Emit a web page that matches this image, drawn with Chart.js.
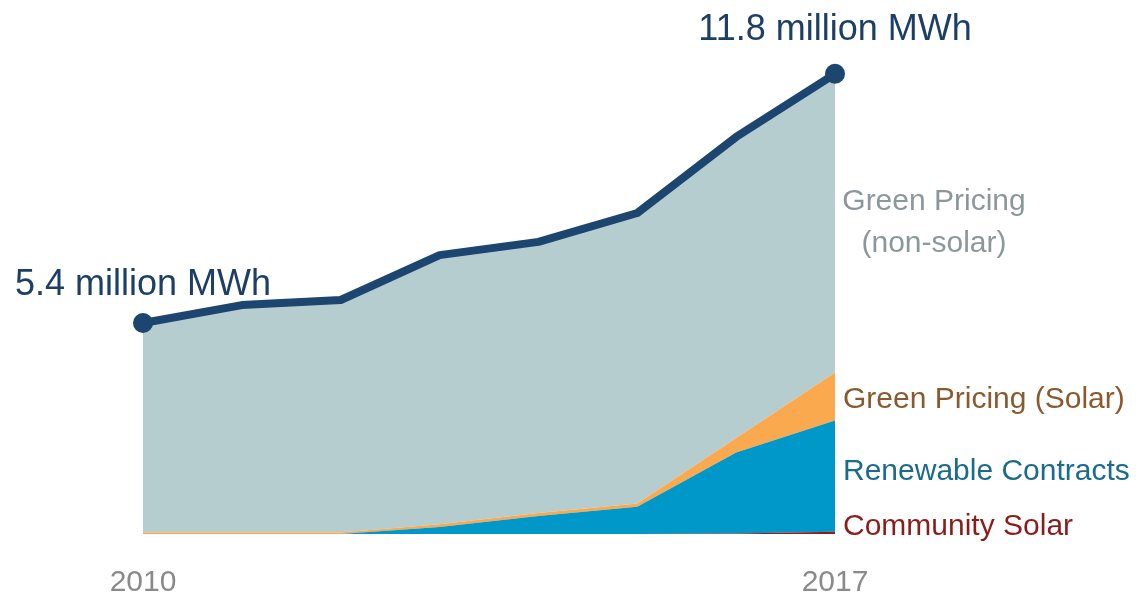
<!DOCTYPE html>
<html>
<head>
<meta charset="utf-8">
<script src="https://cdn.jsdelivr.net/npm/chart.js@4/dist/chart.umd.min.js"></script>
<style>
  html, body { margin: 0; padding: 0; background: #fff; }
  #wrap { width: 1138px; height: 595px; }
</style>
</head>
<body>
<div id="wrap"><canvas id="grafico" width="1138" height="595"></canvas></div>
<script>
// datos (millones de MWh)
const years = ['2010', '2011', '2012', '2013', '2014', '2015', '2016', '2017'];
const communitySolar = [0, 0, 0, 0, 0, 0, 0.01, 0.06];
const renewableContracts = [0, 0, 0, 0.18, 0.46, 0.70, 2.08, 2.85];
const greenPricingSolar = [0.04, 0.04, 0.04, 0.07, 0.08, 0.08, 0.37, 1.23];
const greenPricingNonSolar = [5.37, 5.83, 5.96, 6.90, 6.95, 7.45, 7.72, 7.66];
const totals = [5.41, 5.87, 6.00, 7.15, 7.49, 8.23, 10.18, 11.80];
const endLabels = ['5.4 million MWh', '11.8 million MWh'];
const yearTicks = ['2010', '2017'];

const FONT = '"Liberation Sans", Arial, sans-serif';

const etiquetas = {
    id: 'etiquetas',
    afterDatasetsDraw(chart) {
        const ctx = chart.ctx;
        const x = chart.scales.x;
        const y = chart.scales.y;
        const last = years.length - 1;
        const xr = chart.chartArea.right + 8;
        ctx.save();

        ctx.font = '36px ' + FONT;
        ctx.fillStyle = '#1d3f66';
        ctx.textAlign = 'center';
        ctx.textBaseline = 'alphabetic';
        ctx.fillText(endLabels[0], x.getPixelForValue(0), y.getPixelForValue(totals[0]) - 28);
        ctx.fillText(endLabels[1], x.getPixelForValue(last), y.getPixelForValue(totals[last]) - 34);

        ctx.font = '30px ' + FONT;
        ctx.textBaseline = 'middle';
        ctx.fillStyle = '#8c979b';
        ctx.fillText('Green Pricing', 934, 202);
        ctx.fillText('(non-solar)', 934, 244);

        ctx.textAlign = 'left';
        ctx.fillStyle = '#8a5a2e';
        ctx.fillText('Green Pricing (Solar)', xr, 400);
        ctx.fillStyle = '#1b6b8a';
        ctx.fillText('Renewable Contracts', xr, 472);
        ctx.fillStyle = '#8b1c1c';
        ctx.fillText('Community Solar', xr, 527);

        ctx.textAlign = 'center';
        ctx.fillStyle = '#8a8a8a';
        yearTicks.forEach(t => {
            ctx.fillText(t, x.getPixelForValue(years.indexOf(t)), 583);
        });
        ctx.restore();
    }
};

const area = (label, data, color, fill) => ({
    label, data, fill,
    backgroundColor: color,
    borderWidth: 0,
    pointRadius: 0,
    tension: 0,
    order: 2
});

new Chart(document.getElementById('grafico').getContext('2d'), {
    type: 'line',
    data: {
        labels: years,
        datasets: [
            area('Community Solar', communitySolar, '#8e1b1f', 'origin'),
            area('Renewable Contracts', renewableContracts, '#0097c9', '-1'),
            area('Green Pricing (Solar)', greenPricingSolar, '#fba94f', '-1'),
            area('Green Pricing (non-solar)', greenPricingNonSolar, '#b6cdd0', '-1'),
            {
                label: 'Total',
                data: totals,
                stack: 'total',
                fill: false,
                borderColor: '#1c4570',
                borderWidth: 8,
                borderJoinStyle: 'round',
                borderCapStyle: 'round',
                pointRadius: years.map((_, i) => (i === 0 || i === years.length - 1) ? 10 : 0),
                pointBackgroundColor: '#1c4570',
                pointBorderWidth: 0,
                tension: 0,
                clip: false,
                order: 1
            }
        ]
    },
    options: {
        responsive: false,
        animation: false,
        layout: { padding: { left: 143, right: 303, top: 27, bottom: 61 } },
        plugins: { legend: { display: false }, tooltip: { enabled: false } },
        scales: {
            x: { display: false, offset: false },
            y: { display: false, stacked: true, min: 0, max: 13 }
        }
    },
    plugins: [etiquetas]
});
</script>
</body>
</html>
